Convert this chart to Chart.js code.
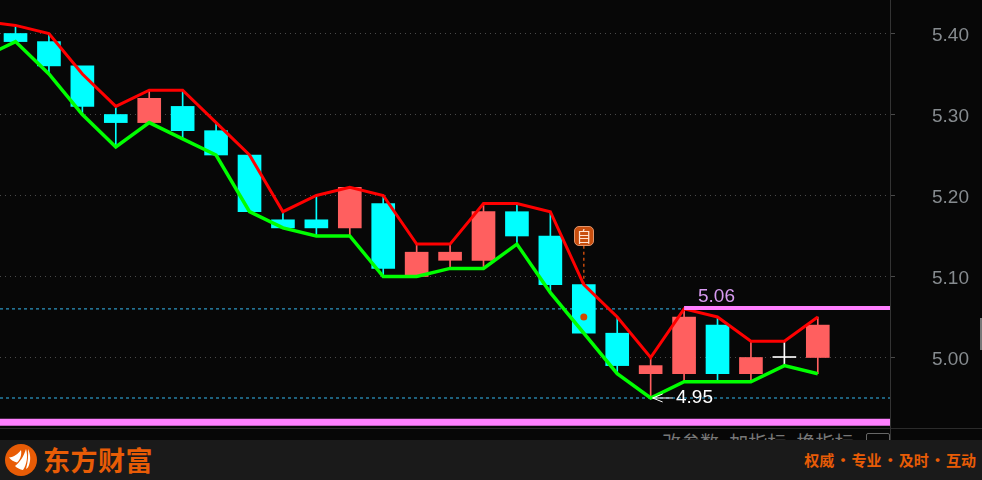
<!DOCTYPE html>
<html>
<head>
<meta charset="utf-8">
<title>K线</title>
<script src="https://cdn.jsdelivr.net/npm/chart.js@4/dist/chart.umd.min.js"></script>
<style>
  html, body { margin: 0; padding: 0; background: #070707; overflow: hidden; }
  #wrap { position: relative; width: 982px; height: 480px; background: #070707; font-family: "Liberation Sans", Arial, sans-serif; }
  #c { position: absolute; left: 0; top: 0; }
  .abs { position: absolute; white-space: nowrap; }
  #under { left: 0; top: 428px; width: 982px; height: 12px; overflow: hidden; border-top: 1px solid #2b2b2b; box-sizing: border-box; }
  #tools { position: absolute; left: 662px; top: 2px; font: 19px "Noto Sans CJK SC", sans-serif; color: #777; word-spacing: 6px; line-height: 22px; }
  #btn { position: absolute; left: 866px; top: 4px; width: 22px; height: 14px; border: 1px solid #666; border-radius: 2px; }
  #vline { left: 890px; top: 428px; width: 1px; height: 12px; background: #333; }
  #footer { left: 0; top: 440px; width: 982px; height: 40px; background: #1a1a1a; }
  #brand { left: 43px; top: 1px; font: bold 27px/38px "Noto Sans CJK SC", sans-serif; color: #e85c06; letter-spacing: 0.5px; }
  #slogan { right: 6px; top: 8px; font: bold 15px/24px "Noto Sans CJK SC", sans-serif; color: #e85c06; word-spacing: -2.3px; }
  #zi { left: 574px; top: 226px; width: 18px; height: 18px; border: 1px solid #e0946a; border-radius: 5px; background: #c84e0e; color: #ffe0cf; font: 15px/18px "Noto Sans CJK SC", sans-serif; text-align: center; }
  #hi { left: 698px; top: 285px; font-size: 19px; line-height: 22px; color: #d79af0; }
  #lo { left: 676px; top: 386px; font-size: 19px; line-height: 22px; color: #fff; }
  #bar { left: 980px; top: 318px; width: 2px; height: 32px; background: #777; }
</style>
</head>
<body>
<div id="wrap">
  <canvas id="c" width="982" height="428"></canvas>
  <div class="abs" id="zi">自</div>
  <div class="abs" id="hi">5.06</div>
  <div class="abs" id="lo">4.95</div>
  <div class="abs" id="bar"></div>
  <div class="abs" id="under">
    <div id="tools">改参数 加指标 换指标</div>
    <div id="btn"></div>
  </div>
  <div class="abs" id="vline"></div>
  <div class="abs" id="footer">
    <svg class="abs" style="left:5px;top:4px" width="32" height="32" viewBox="0 0 32 32">
      <circle cx="16" cy="16" r="16" fill="#e85c06"/>
      <path d="M4 13.5 C9 13 13 10 16 6 C17 11 15 16 12 18.5 C9 18 6 16 4 13.5Z" fill="#fff"/>
      <path d="M10 22 C15 18 19 12 21 5 C23 12 22 20 18 26 C15 25.5 12 24 10 22Z" fill="#fff"/>
      <path d="M23 5 C25.5 10 26 16 24 21 C23.5 23 22.5 24 21 25 C23 18 23.5 11 23 5Z" fill="#fff"/>
    </svg>
    <div class="abs" id="brand">东方财富</div>
    <div class="abs" id="slogan">权威 · 专业 · 及时 · 互动</div>
  </div>
</div>
<script>
const tickValues = [5.00, 5.10, 5.20, 5.30, 5.40];

const opens  = [5.40,5.39,5.36,5.30,5.29,5.31,5.28,5.25,5.17,5.17,5.16,5.19,5.10,5.12,5.12,5.18,5.15,5.09,5.03,4.98,4.98,5.04,4.98,5.00,5.00];
const closes = [5.39,5.36,5.31,5.29,5.32,5.28,5.25,5.18,5.16,5.16,5.21,5.11,5.13,5.13,5.18,5.15,5.09,5.03,4.99,4.99,5.05,4.98,5.00,5.00,5.04];
const highs  = [5.41,5.40,5.35,5.31,5.33,5.33,5.29,5.25,5.18,5.20,5.21,5.20,5.14,5.14,5.19,5.19,5.18,5.09,5.05,5.00,5.06,5.05,5.02,5.02,5.05];
const lows   = [5.39,5.35,5.30,5.26,5.29,5.27,5.25,5.18,5.16,5.15,5.15,5.10,5.10,5.11,5.11,5.14,5.08,5.03,4.98,4.95,4.97,4.97,4.97,4.99,4.98];

// the candle just off the left edge, only its lines show
const prevHigh = 5.415;
const prevLow = 5.37;

const peakValue = 5.06;
const troughValue = 4.95;
const bottomBandValue = 4.92;
const markerIndex = 17;
const markerDot = 5.05;
const markerTop = 5.138;
const peakIndex = 20;
const troughIndex = 19;

const RED = "#ff5f5f";
const CYAN = "#00ffff";

function candleColor(i) {
  if (opens[i] === closes[i]) return "#ffffff";
  return closes[i] > opens[i] ? RED : CYAN;
}

const idx = opens.map((_, i) => i);
const colors = idx.map(candleColor);

const xMin = -0.464;
const xMax = 26.16;

function hline(value, from, to, color, width, dash, order) {
  return {
    type: "line",
    data: [{ x: from, y: value }, { x: to, y: value }],
    borderColor: color,
    borderWidth: width,
    borderDash: dash || [],
    pointRadius: 0,
    order: order
  };
}

// arrow pointing at the low, drawn from the scales
const arrowPlugin = {
  id: "arrow",
  afterDatasetsDraw(chart) {
    const ctx = chart.ctx;
    const x = chart.scales.x.getPixelForValue(troughIndex) + 2;
    const y = chart.scales.y.getPixelForValue(troughValue);
    ctx.save();
    ctx.strokeStyle = "#fff";
    ctx.lineWidth = 1;
    ctx.beginPath();
    ctx.moveTo(x + 10, y - 4);
    ctx.lineTo(x, y);
    ctx.lineTo(x + 10, y + 4);
    ctx.moveTo(x, y);
    ctx.lineTo(x + 20, y);
    ctx.stroke();
    ctx.restore();
  }
};

new Chart(document.getElementById("c").getContext("2d"), {
  data: {
    datasets: [
      hline(peakValue, xMin, xMax, "#35b8f0", 1, [3, 3], 9),
      hline(troughValue, xMin, xMax, "#35b8f0", 1, [3, 3], 9),
      {
        type: "bar",
        data: idx.map(i => ({ x: i, y: [lows[i], highs[i]] })),
        backgroundColor: colors,
        barThickness: 1,
        grouped: false,
        order: 8
      },
      {
        type: "bar",
        data: idx.map(i => ({
          x: i,
          y: opens[i] === closes[i] ? [opens[i], opens[i] + 0.0012] : [opens[i], closes[i]]
        })),
        backgroundColor: colors,
        barThickness: 23,
        grouped: false,
        order: 7
      },
      {
        type: "line",
        data: [{ x: -1, y: prevHigh }].concat(idx.map(i => ({ x: i, y: highs[i] }))),
        borderColor: "#ff0000",
        borderWidth: 3,
        pointRadius: 0,
        tension: 0,
        order: 4
      },
      {
        type: "line",
        data: [{ x: -1, y: prevLow }].concat(idx.map(i => ({ x: i, y: lows[i] }))),
        borderColor: "#00ff00",
        borderWidth: 3.5,
        pointRadius: 0,
        tension: 0,
        order: 3
      },
      hline(5.061, peakIndex, xMax, "#ff80ff", 4, null, 2),
      hline(bottomBandValue, xMin, xMax, "#ff80ff", 7, null, 2),
      {
        type: "line",
        data: [{ x: markerIndex, y: markerTop }, { x: markerIndex, y: highs[markerIndex] }],
        borderColor: "#c4480c",
        borderWidth: 1.5,
        borderDash: [3, 3],
        pointRadius: 0,
        order: 5
      },
      {
        type: "line",
        data: [{ x: markerIndex, y: markerDot }],
        showLine: false,
        pointRadius: 3.5,
        pointBackgroundColor: "#d04a00",
        pointBorderWidth: 0,
        order: 1
      }
    ]
  },
  options: {
    responsive: false,
    animation: false,
    devicePixelRatio: 1,
    layout: { padding: 0, autoPadding: false },
    plugins: { legend: { display: false }, tooltip: { enabled: false } },
    scales: {
      x: {
        type: "linear",
        offset: false,
        min: xMin,
        max: xMax,
        display: false
      },
      y: {
        position: "right",
        min: 4.91296,
        max: 5.44136,
        afterFit(s) {
          s.width = 92;
          s.paddingTop = 0;
          s.paddingBottom = 0;
        },
        afterBuildTicks(s) { s.ticks = tickValues.map(v => ({ value: v })); },
        border: { color: "#333", dash: [1, 4] },
        grid: { color: "#4a4a4a", tickLength: 5, tickBorderDash: [] },
        ticks: {
          color: "#868b8f",
          padding: 37,
          labelOffset: 2.5,
          font: { family: "Liberation Sans", size: 19 },
          callback: v => v.toFixed(2)
        }
      }
    }
  },
  plugins: [arrowPlugin]
});
</script>
</body>
</html>
